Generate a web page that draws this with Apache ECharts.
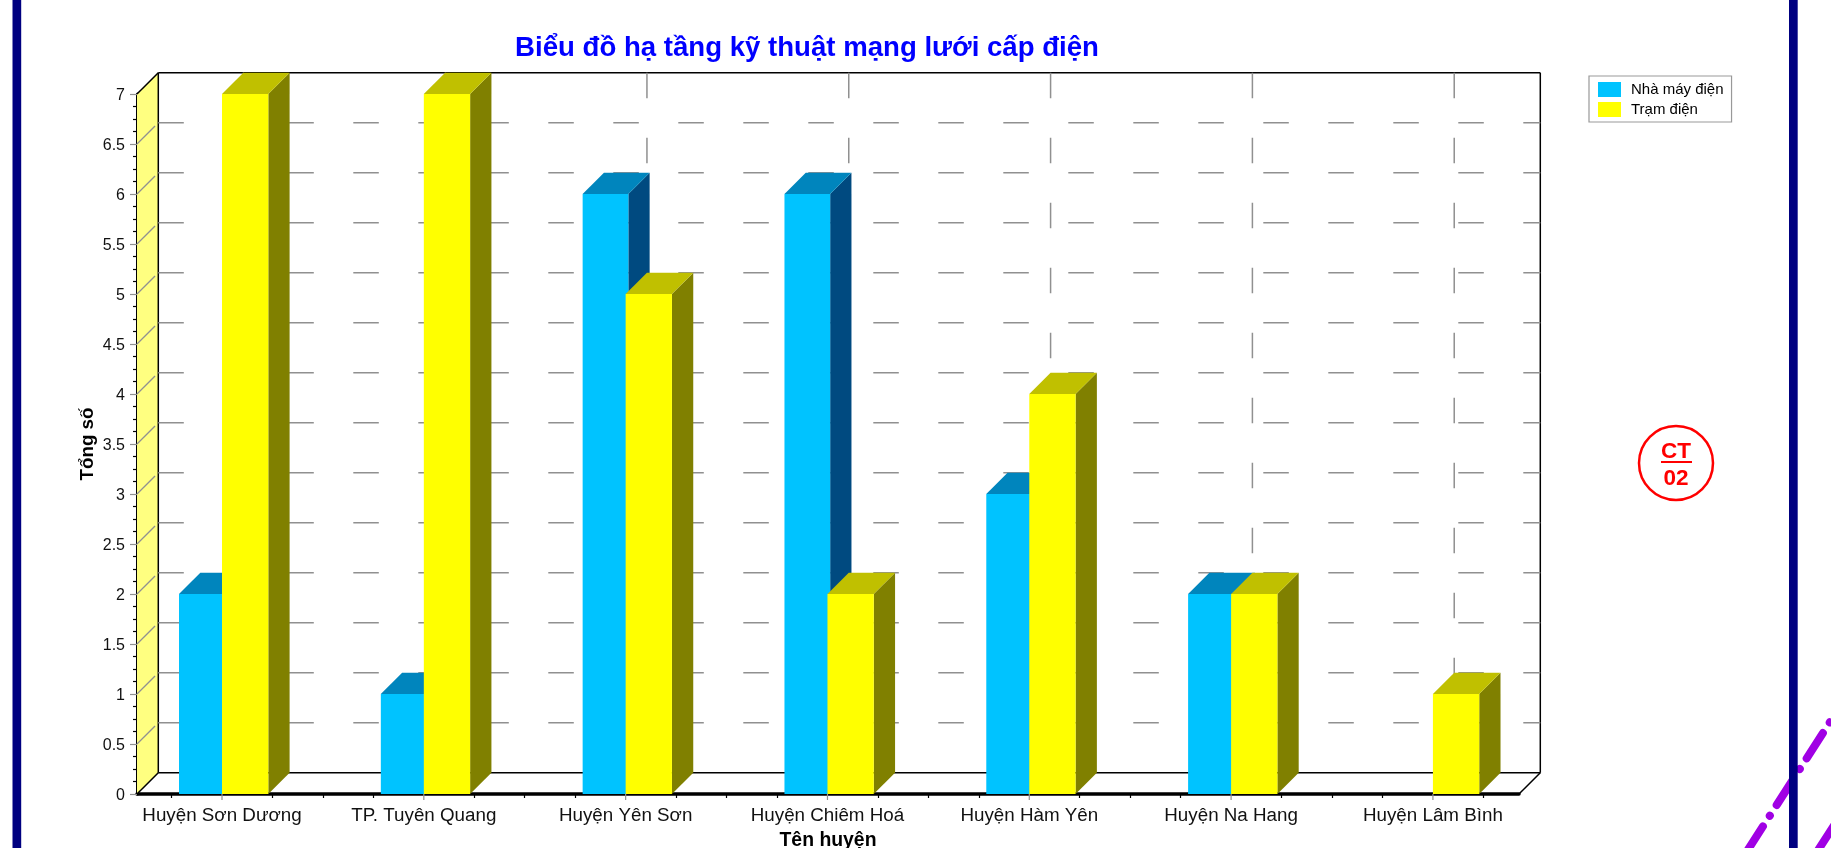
<!DOCTYPE html>
<html>
<head>
<meta charset="utf-8">
<style>html,body{margin:0;padding:0;background:#fff;overflow:hidden}#c{width:1831px;height:848px}</style>
<script src="https://cdn.jsdelivr.net/npm/echarts@6/dist/echarts.min.js"></script>
</head>
<body>
<div id="c"></div>
<script>
var titleText = 'Biểu đồ hạ tầng kỹ thuật mạng lưới cấp điện';
var categories = ['Huyện Sơn Dương','TP. Tuyên Quang','Huyện Yên Sơn','Huyện Chiêm Hoá','Huyện Hàm Yên','Huyện Na Hang','Huyện Lâm Bình'];
var nhaMayDien = [2,1,6,6,3,2,0];
var tramDien = [7,7,5,2,4,2,1];
var gridValues = [0.5,1,1.5,2,2.5,3,3.5,4,4.5,5,5.5,6,6.5];
var xMinorTicks = [-0.25,0.25,0.5,0.75,1.25,1.5,1.75,2.25,2.5,2.75,3.25,3.5,3.75,4.25,4.5,4.75,5.25,5.5,5.75,6.25];
var FONT = '"Liberation Sans", Arial, sans-serif';
var XMIN = -0.4212, XMAX = 6.4265, YMIN = 0, YMAX = 7;
var DEPTH = 21.3, DASH = [25.5, 39.5], GRIDC = '#909090';

function line(x1,y1,x2,y2,color,width,dash){
  return {type:'line',shape:{x1:x1,y1:y1,x2:x2,y2:y2},
    style:{stroke:color,lineWidth:width,lineDash:dash||null,fill:null},silent:true};
}
function poly(points,color){
  return {type:'polygon',shape:{points:points},style:{fill:color,stroke:null},silent:true};
}
function renderFrame(params,api){
  var a = api.coord([XMIN,YMIN]), b = api.coord([XMAX,YMAX]);
  var L=a[0], B=a[1], R=b[0], T=b[1], d=DEPTH;
  return {type:'group',children:[
    poly([[L,B],[L+d,B-d],[L+d,T-d],[L,T]],'#FFFF80'),
    line(L+d,T-d,L+d,B-d,'#000',1.5),
    line(L+d,T-d,R+d,T-d,'#000',1.5),
    line(R+d,T-d,R+d,B-d,'#000',1.5),
    line(L+d,B-d,R+d,B-d,'#000',1.5),
    line(L,T,L+d,T-d,'#000',1.5),
    line(L,B,L+d,B-d,'#000',1.5),
    line(R,B,R+d,B-d,'#000',1.5)
  ]};
}
function renderHGrid(params,api){
  var v = api.value(1);
  var l = api.coord([XMIN,v]), r = api.coord([XMAX,v]), d = DEPTH;
  return {type:'group',children:[
    line(l[0],l[1],l[0]+d,l[1]-d,GRIDC,1.3,DASH),
    line(l[0]+d,l[1]-d,r[0]+d,r[1]-d,GRIDC,1.5,DASH)
  ]};
}
function renderVGrid(params,api){
  var x = api.value(0);
  var bt = api.coord([x,YMIN]), tp = api.coord([x,YMAX]), d = DEPTH;
  return {type:'group',children:[
    line(tp[0]+d,tp[1]-d,bt[0]+d,bt[1]-d,GRIDC,1.5,DASH),
    line(bt[0],bt[1],bt[0],bt[1]+6,GRIDC,1.2)
  ]};
}
function makeBar(offset,width,front,topC,side){
  return function(params,api){
    var v = api.value(1);
    if(!v) return null;
    var p = api.coord([api.value(0),v]), o = api.coord([api.value(0),0]);
    var l = p[0]+offset, r = l+width, t = p[1], b = o[1], d = DEPTH;
    return {type:'group',children:[
      poly([[r,b],[r+d,b-d],[r+d,t-d],[r,t]],side),
      poly([[l,t],[l+d,t-d],[r+d,t-d],[r,t]],topC),
      poly([[l,b],[l,t],[r,t],[r,b]],front)
    ]};
  };
}
function toPairs(arr){return arr.map(function(v,i){return [i,v];});}

var chart = echarts.init(document.getElementById('c'),null,{renderer:'canvas'});
chart.setOption({
  animation:false,
  backgroundColor:'#ffffff',
  textStyle:{fontFamily:FONT},
  title:{text:titleText,left:802,top:29,textAlign:'center',
    textStyle:{color:'#0000FF',fontSize:27.6,fontWeight:'bold',fontFamily:FONT}},
  legend:{left:1589,top:76,orient:'vertical',selectedMode:false,
    data:['Nhà máy điện','Trạm điện'],icon:'rect',itemWidth:23,itemHeight:15,itemGap:5,
    padding:[6,8,5,9],backgroundColor:'#fff',borderColor:'#999',borderWidth:1.2,borderRadius:0,
    textStyle:{fontSize:15,color:'#000',fontFamily:FONT,padding:[0,0,0,5]}},
  grid:{left:137,right:312,top:94,bottom:54,containLabel:false,outerBoundsMode:'none'},
  xAxis:{type:'value',min:XMIN,max:XMAX,
    name:'Tên huyện',nameLocation:'middle',nameGap:37,
    nameTextStyle:{fontSize:19.4,fontWeight:'bold',color:'#000',fontFamily:FONT},
    splitLine:{show:false},
    axisLine:{show:true,onZero:false,lineStyle:{color:'#000',width:3.5}},
    axisTick:{show:true,customValues:xMinorTicks,length:4,lineStyle:{color:'#000',width:1.2}},
    axisLabel:{show:true,customValues:categories.map(function(c,i){return i;}),
      formatter:function(v){return categories[Math.round(v)]||'';},
      margin:12,fontSize:18.8,color:'#111',fontFamily:FONT,hideOverlap:false}},
  yAxis:{type:'value',min:YMIN,max:YMAX,interval:0.5,
    name:'Tổng số',nameLocation:'middle',nameGap:40,nameMoveOverlap:false,
    nameTextStyle:{fontSize:18.8,fontWeight:'bold',color:'#000',fontFamily:FONT},
    splitLine:{show:false},
    axisLine:{show:true,onZero:false,lineStyle:{color:'#000',width:3}},
    axisTick:{show:true,length:7,lineStyle:{color:GRIDC,width:1.2}},
    minorTick:{show:true,splitNumber:4,length:4,lineStyle:{color:'#000',width:1.2}},
    minorSplitLine:{show:false},
    axisLabel:{margin:12,fontSize:16,color:'#111',fontFamily:FONT,verticalAlign:'top',lineHeight:3,
      formatter:function(v){return String(v);}}},
  series:[
    {type:'custom',name:'frame',z:1,renderItem:renderFrame,data:[[0,0]],silent:true,clip:false},
    {type:'custom',name:'hgrid',z:1.1,renderItem:renderHGrid,data:gridValues.map(function(v){return [0,v];}),silent:true,clip:false},
    {type:'custom',name:'vgrid',z:1.2,renderItem:renderVGrid,data:categories.map(function(c,i){return [i,0];}),silent:true,clip:false},
    {type:'custom',name:'Nhà máy điện',z:3,renderItem:makeBar(-43,45.7,'#00C3FF','#0085BD','#004A80'),
      itemStyle:{color:'#00C3FF'},data:toPairs(nhaMayDien),silent:true,clip:false},
    {type:'custom',name:'Trạm điện',z:4,renderItem:makeBar(0,46.3,'#FFFF00','#C0C000','#808000'),
      itemStyle:{color:'#FFFF00'},data:toPairs(tramDien),silent:true,clip:false}
  ],
  graphic:[
    {type:'polyline',z:50,silent:true,shape:{points:[[1746.7,851.7],[1840,706.4]]},
      style:{stroke:'#A000E4',lineWidth:8,lineCap:'round',fill:null,lineDash:[30,12.7,0.1,12.7]}},
    {type:'polyline',z:50,silent:true,shape:{points:[[1813,858],[1835,824]]},
      style:{stroke:'#A000E4',lineWidth:8,lineCap:'round',fill:null}},
    {type:'rect',z:51,silent:true,shape:{x:12.5,y:0,width:8.7,height:848},style:{fill:'#000080'}},
    {type:'rect',z:51,silent:true,shape:{x:1789,y:0,width:8.7,height:848},style:{fill:'#000080'}},
    {type:'circle',z:52,silent:true,shape:{cx:1676,cy:463,r:37},style:{fill:'#fff',stroke:'#FF0000',lineWidth:2.5}},
    {type:'text',z:53,silent:true,style:{x:1676,y:452,text:'CT',fill:'#FF0000',align:'center',verticalAlign:'middle',font:'bold 22.5px "Liberation Sans", Arial, sans-serif'}},
    {type:'rect',z:53,silent:true,shape:{x:1661,y:461,width:31,height:2},style:{fill:'#FF0000'}},
    {type:'text',z:53,silent:true,style:{x:1676,y:479,text:'02',fill:'#FF0000',align:'center',verticalAlign:'middle',font:'bold 22.5px "Liberation Sans", Arial, sans-serif'}}
  ]
});
</script>
</body>
</html>
